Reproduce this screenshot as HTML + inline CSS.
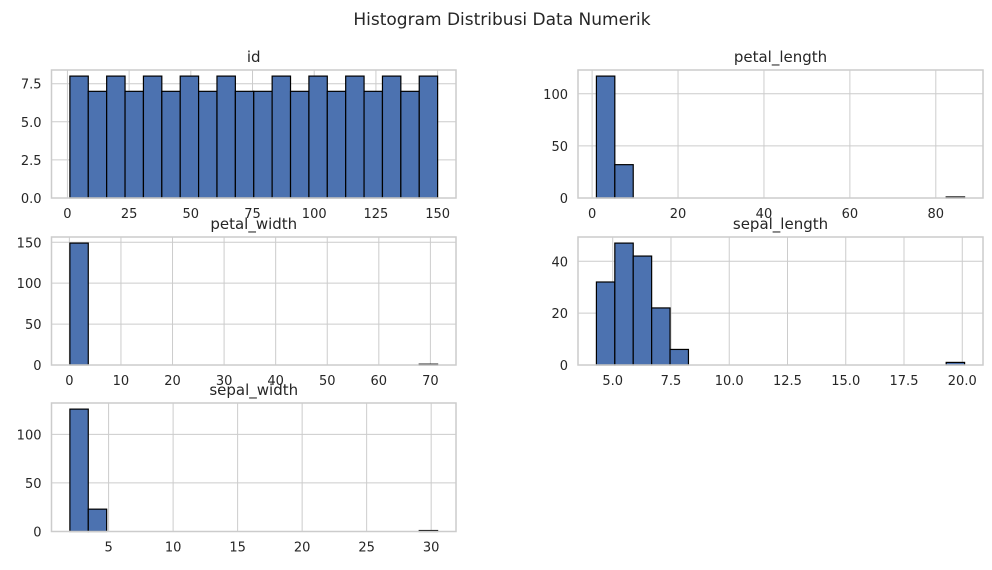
<!DOCTYPE html>
<html><head><meta charset="utf-8"><style>
body{margin:0;background:#fff}
svg{display:block;font-family:"DejaVu Sans","Liberation Sans",sans-serif}
</style></head><body>
<svg id="fig" width="992" height="570">
<text x="502" y="25" text-anchor="middle" font-size="17" fill="#262626">Histogram Distribusi Data Numerik</text>
</svg>
<script>
// ---- data ----
const idCounts = [8,7,8,7,8,7,8,7,8,7,7,8,7,8,7,8,7,8,7,8];
const idRange = [1,150];
const idYTicks = [0,2.5,5,7.5];
const idXTicks = [0,25,50,75,100,125,150];

const petalLengthCounts = [117,32,0,0,0,0,0,0,0,0,0,0,0,0,0,0,0,0,0,1];
const petalLengthRange = [1.0,86.7];
const petalLengthYTicks = [0,50,100];
const petalLengthXTicks = [0,20,40,60,80];

const petalWidthCounts = [149,0,0,0,0,0,0,0,0,0,0,0,0,0,0,0,0,0,0,1];
const petalWidthRange = [0.1,71.4];
const petalWidthYTicks = [0,50,100,150];
const petalWidthXTicks = [0,10,20,30,40,50,60,70];

const sepalLengthCounts = [32,47,42,22,6,0,0,0,0,0,0,0,0,0,0,0,0,0,0,1];
const sepalLengthRange = [4.3,20.1];
const sepalLengthYTicks = [0,20,40];
const sepalLengthXTicks = [5,7.5,10,12.5,15,17.5,20];
const sepalLengthXLabels = ["5.0","7.5","10.0","12.5","15.0","17.5","20.0"];

const sepalWidthCounts = [126,23,0,0,0,0,0,0,0,0,0,0,0,0,0,0,0,0,0,1];
const sepalWidthRange = [2.0,30.5];
const sepalWidthYTicks = [0,50,100];
const sepalWidthXTicks = [5,10,15,20,25,30];

const NS="http://www.w3.org/2000/svg";
const svg=document.getElementById('fig');
function mk(tag,attrs,parent){const e=document.createElementNS(NS,tag);for(const k in attrs)e.setAttribute(k,attrs[k]);(parent||svg).appendChild(e);return e;}

function panel(name,title,box,counts,range,yTicks,xTicks,xLabels,yFmt){
  const [L,T,R,B]=box;
  const g=mk('g',{});
  
  
  const n=counts.length, w=(range[1]-range[0])/n;
  const span=range[1]-range[0];
  const x0=range[0]-0.05*span, x1=range[1]+0.05*span;
  const ymax=Math.max(...counts)*1.05;
  const sx=v=>L+(v-x0)/(x1-x0)*(R-L);
  const sy=v=>B-v/ymax*(B-T);
  // grid
  xTicks.forEach((t,i)=>{
    const l=mk('line',{x1:sx(t),x2:sx(t),y1:T,y2:B,stroke:'#cccccc','stroke-width':1},g);
    
    
    const tx=mk('text',{x:sx(t),y:B+20,'text-anchor':'middle','font-size':13,fill:'#262626'},g);
    tx.textContent=xLabels?xLabels[i]:String(t);
    
    
  });
  yTicks.forEach(t=>{
    const l=mk('line',{x1:L,x2:R,y1:sy(t),y2:sy(t),stroke:'#cccccc','stroke-width':1},g);
    
    
    const tx=mk('text',{x:L-10,y:sy(t)+5,'text-anchor':'end','font-size':13,fill:'#262626'},g);
    tx.textContent=yFmt?t.toFixed(1):String(t);
    
    
  });
  counts.forEach((c,i)=>{
    const a=sx(range[0]+i*w), b=sx(range[0]+(i+1)*w);
    const r=mk('rect',{x:a,y:sy(c),width:b-a,height:sy(0)-sy(c),fill:'#4c72b0',stroke:c>0?'#000':'none','stroke-width':1.2},g);
    
    
  });
  const fr=mk('rect',{x:L,y:T,width:R-L,height:B-T,fill:'none',stroke:'#cccccc','stroke-width':1.5},g);
  
  
  const tt=mk('text',{x:(L+R)/2,y:T-8,'text-anchor':'middle','font-size':15,fill:'#262626'},g);
  tt.textContent=title;
  
  
}
panel('id','id',[51.5,70,456,198],idCounts,idRange,idYTicks,idXTicks,null,true);
panel('petal-length','petal_length',[578,70,983,198],petalLengthCounts,petalLengthRange,petalLengthYTicks,petalLengthXTicks,null,false);
panel('petal-width','petal_width',[51.5,237,456,365],petalWidthCounts,petalWidthRange,petalWidthYTicks,petalWidthXTicks,null,false);
panel('sepal-length','sepal_length',[578,237,983,365],sepalLengthCounts,sepalLengthRange,sepalLengthYTicks,sepalLengthXTicks,sepalLengthXLabels,false);
panel('sepal-width','sepal_width',[51.5,403,456,531.5],sepalWidthCounts,sepalWidthRange,sepalWidthYTicks,sepalWidthXTicks,null,false);
</script>
</body></html>
